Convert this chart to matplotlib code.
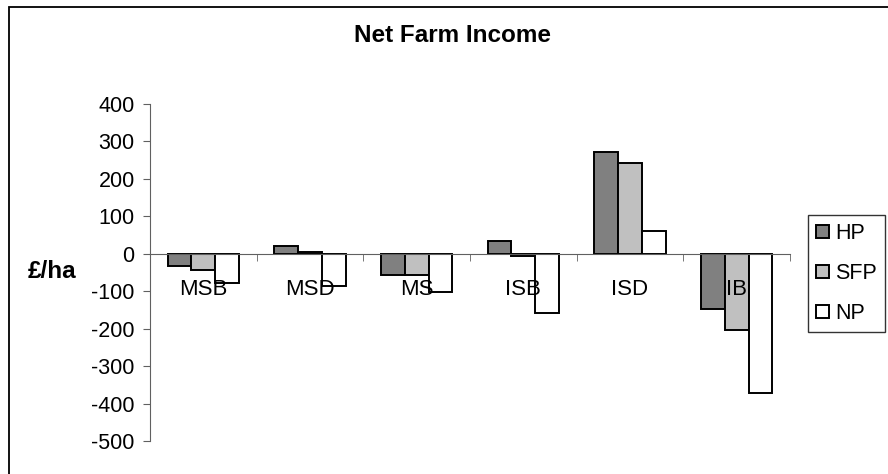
import numpy as np
import matplotlib
matplotlib.use("Agg")
import matplotlib.pyplot as plt
from matplotlib.patches import Rectangle

plt.rcParams['font.family'] = ['Liberation Sans', 'DejaVu Sans']

# data
categories = ["MSB", "MSD", "MS", "ISB", "ISD", "IB"]
series = ["HP", "SFP", "NP"]
hp = [-33, 20, -57, 35, 272, -148]
sfp = [-44, 4, -57, -7, 243, -203]
np_vals = [-78, -87, -102, -157, 60, -372]
y_ticks = [400, 300, 200, 100, 0, -100, -200, -300, -400, -500]

colors = ["#808080", "#C0C0C0", "#FFFFFF"]

fig = plt.figure(figsize=(8.88, 4.74), dpi=100)
ax = fig.add_axes([150 / 888, 1 - 441 / 474, 640 / 888, 337 / 474])

x = np.arange(len(categories))
w = 0.222
for i, (vals, name) in enumerate(zip([hp, sfp, np_vals], series)):
    ax.bar(x + (i - 1) * w, vals, width=w, color=colors[i],
           edgecolor="black", linewidth=1.4, label=name, zorder=1)

# spines first (set_position resets tick settings)
for s in ["top", "right"]:
    ax.spines[s].set_visible(False)
ax.spines["bottom"].set_position(("data", 0))
ax.spines["bottom"].set_color("#606060")
ax.spines["left"].set_color("#606060")

ax.set_xlim(-0.5, len(categories) - 0.5)
ax.set_ylim(-500, 400)
ax.set_yticks(y_ticks)
ax.set_yticklabels([str(v) for v in y_ticks])

# category labels at centres, tick marks at the boundaries
ax.set_xticks(x)
ax.set_xticklabels(categories)
ax.set_xticks(np.arange(len(categories) + 1) - 0.5, minor=True)
ax.tick_params(axis="x", which="major", length=0, pad=18, labelsize=16)
ax.tick_params(axis="x", which="minor", length=5, direction="out", color="#606060")
ax.tick_params(axis="y", length=5, direction="out", color="#606060", pad=6,
               labelsize=15.5)
ax.spines["left"].set_bounds(-500, 400)

fig.text(453 / 888, 1 - 36 / 474, "Net Farm Income", fontsize=17.5,
         fontweight="bold", ha="center", va="center")
fig.text(52 / 888, 1 - 272 / 474, "£/ha", fontsize=17.5,
         fontweight="bold", ha="center", va="center")

leg = fig.legend(loc="upper left", bbox_to_anchor=(808 / 888, 1 - 215 / 474),
                 fontsize=15.5, frameon=True, fancybox=False, handlelength=0.6,
                 handleheight=0.6, handletextpad=0.3, labelspacing=0.88,
                 borderpad=0.38, borderaxespad=0)
leg.get_frame().set_edgecolor("black")
leg.get_frame().set_linewidth(1.0)

# outer chart border (runs off the right and bottom edges)
fig.patches.append(Rectangle((9 / 888, -0.2), 1.5, 1.2 - 7 / 474,
                             transform=fig.transFigure, fill=False,
                             edgecolor="black", linewidth=1.3))

fig.savefig("out.png", dpi=100)
